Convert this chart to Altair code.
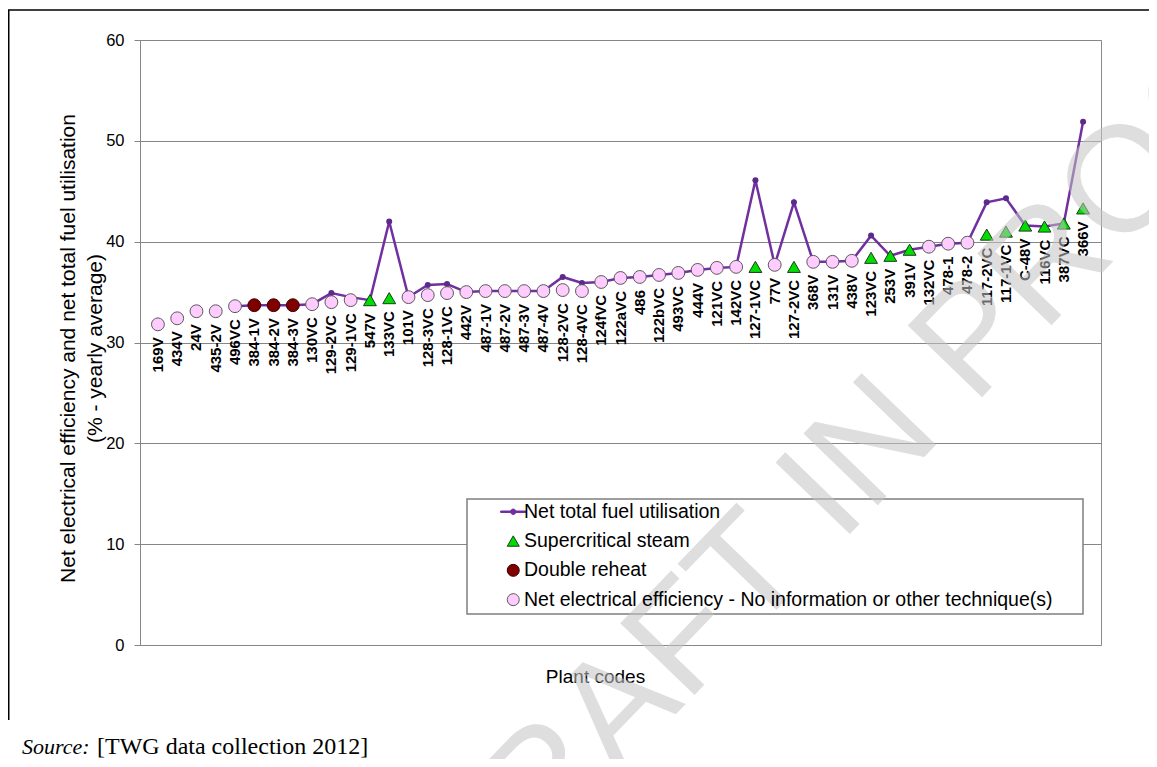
import altair as alt
import pandas as pd

# ---------------- data ----------------
plants = ["169V", "434V", "24V", "435-2V", "496VC", "384-1V", "384-2V", "384-3V",
          "130VC", "129-2VC", "129-1VC", "547V", "133VC", "101V", "128-3VC",
          "128-1VC", "442V", "487-1V", "487-2V", "487-3V", "487-4V", "128-2VC",
          "128-4VC", "124fVC", "122aVC", "486", "122bVC", "493VC", "444V",
          "121VC", "142VC", "127-1VC", "77V", "127-2VC", "368V", "131V", "438V",
          "123VC", "253V", "391V", "132VC", "478-1", "478-2", "117-2VC",
          "117-1VC", "C-48V", "116VC", "387VC", "366V"]

net_elec = [31.8, 32.4, 33.1, 33.1, 33.6, 33.7, 33.7, 33.7, 33.8, 34.0, 34.2,
            34.2, 34.4, 34.5, 34.7, 34.9, 35.0, 35.1, 35.1, 35.1, 35.1, 35.2,
            35.1, 36.0, 36.4, 36.5, 36.7, 36.9, 37.2, 37.4, 37.5, 37.5, 37.7,
            37.5, 38.0, 38.0, 38.1, 38.4, 38.6, 39.2, 39.5, 39.8, 39.9, 40.7,
            41.0, 41.6, 41.5, 41.8, 43.3]

net_fuel = [None, None, None, None, 33.6, 33.7, 33.7, 33.7, 33.8, 34.9, 34.5,
            34.2, 42.0, 34.5, 35.7, 35.8, 35.0, 35.1, 35.1, 35.1, 35.1, 36.5,
            35.9, 36.0, 36.4, 36.5, 36.7, 36.9, 37.2, 37.4, 37.5, 46.1, 37.7,
            43.9, 38.0, 38.0, 38.1, 40.6, 38.6, 39.2, 39.5, 39.8, 39.9, 43.9,
            44.3, 41.6, 41.5, 41.8, 51.9]

# C = no information / other technique, D = double reheat, S = supercritical steam
types = (["C"] * 5 + ["D"] * 3 + ["C"] * 3 + ["S", "S"] + ["C"] * 18 +
         ["S", "C", "S"] + ["C"] * 3 + ["S"] * 3 + ["C"] * 3 + ["S"] * 6)

series_names = ["Net total fuel utilisation", "Supercritical steam", "Double reheat",
                "Net electrical efficiency - No information or other technique(s)"]
code_to_series = {"S": series_names[1], "D": series_names[2], "C": series_names[3]}

y_ticks = [0, 10, 20, 30, 40, 50, 60]
y_title = ["Net electrical efficiency and net total fuel utilisation",
           "(% - yearly average)"]

df = pd.DataFrame({
    "Plant": plants,
    "NEE": net_elec,
    "NTFU": net_fuel,
    "Series": [code_to_series[t] for t in types],
})

FONT = "Liberation Sans"
PURPLE = "#7030A0"

x_enc = alt.X(
    "Plant:N", sort=plants,
    scale=alt.Scale(type="point", padding=0.93),
    axis=alt.Axis(title="Plant codes", labels=False, ticks=False, domain=False,
                  grid=False, titleX=455, titleY=31, titleBaseline="middle",
                  titleFontSize=19, titleFontWeight="normal", titleColor="black",
                  titleFont=FONT),
)
y_scale = alt.Scale(domain=[0, 60], nice=False)
y_axis = alt.Axis(values=y_ticks, grid=True, gridColor="#868686",
                  domainColor="#868686", tickColor="#868686", tickSize=6,
                  labelFontSize=16.5, labelColor="black", labelPadding=10,
                  labelFont=FONT, title=y_title, titleFontSize=21,
                  titleFontWeight="normal", titleColor="black", titleFont=FONT,
                  titleX=-72, titleY=308, titleBaseline="middle",
                  titleLineHeight=27)

LINE_PATH = ("M-2.1,-0.12H2.1V0.12H-2.1Z "
             "M0.45,0A0.45,0.45,0,1,1,-0.45,0A0.45,0.45,0,1,1,0.45,0Z")

fill_scale = alt.Scale(domain=series_names,
                       range=[PURPLE, "#00DD00", "#800000", "#FFCCFF"])
stroke_scale = alt.Scale(domain=series_names,
                         range=[PURPLE, "#1E3A1E", "#3A0000", "#5A5A5A"])
shape_scale = alt.Scale(domain=series_names,
                        range=[LINE_PATH, "triangle-up", "circle", "circle"])

legend = alt.Legend(
    title=None, orient="none", legendX=327, legendY=459,
    labelFontSize=19.5, labelFont=FONT, labelColor="black", labelLimit=800,
    symbolSize=144, symbolStrokeWidth=1, symbolOffset=33.5, labelOffset=1,
    rowPadding=8.3, padding=3,
)

base = alt.Chart(df)

# legend frame (decoration behind the legend entries)
legend_box = alt.Chart(pd.DataFrame({"k": [0]})).mark_rect(
    fill="white", stroke="#7f7f7f", strokeWidth=1.5
).encode(x=alt.value(327), x2=alt.value(943), y=alt.value(459), y2=alt.value(574))

line = base.transform_filter("isValid(datum.NTFU)").mark_line(
    color=PURPLE, strokeWidth=2.5
).encode(x=x_enc, y=alt.Y("NTFU:Q", scale=y_scale, axis=y_axis))

dots = base.transform_filter("isValid(datum.NTFU)").mark_circle(
    size=36, color="#5B2A8C", opacity=1
).encode(x=x_enc, y=alt.Y("NTFU:Q", scale=y_scale, axis=y_axis))

markers = base.mark_point(filled=True, size=165, strokeWidth=1, opacity=1).encode(
    x=x_enc,
    y=alt.Y("NEE:Q", scale=y_scale, axis=y_axis),
    fill=alt.Fill("Series:N", scale=fill_scale, legend=legend),
    stroke=alt.Stroke("Series:N", scale=stroke_scale, legend=legend),
    shape=alt.Shape("Series:N", scale=shape_scale, legend=legend),
)

labels = base.mark_text(
    angle=270, align="right", baseline="middle", dx=-13, fontSize=15,
    fontWeight="bold", color="black", font=FONT
).encode(x=x_enc, y=alt.Y("NEE:Q", scale=y_scale, axis=y_axis), text="Plant:N")

watermark = alt.Chart(pd.DataFrame({"t": ["DRAFT IN PROGRESS"]})).mark_text(
    angle=314, align="center", baseline="alphabetic", fontSize=150, font=FONT,
    color="#c4c4c4", opacity=0.55
).encode(x=alt.value(875), y=alt.value(323), text="t:N")

source1 = alt.Chart(pd.DataFrame({"t": ["Source:"]})).mark_text(
    align="left", baseline="alphabetic", fontSize=22, font="Liberation Serif",
    fontStyle="italic", color="black"
).encode(x=alt.value(-118), y=alt.value(714), text="t:N")

source2 = alt.Chart(pd.DataFrame({"t": ["[TWG data collection 2012]"]})).mark_text(
    align="left", baseline="alphabetic", fontSize=24, font="Liberation Serif",
    color="black"
).encode(x=alt.value(-43), y=alt.value(714), text="t:N")

frame_top = alt.Chart(pd.DataFrame({"k": [0]})).mark_rule(
    color="black", strokeWidth=1.5
).encode(x=alt.value(-132), x2=alt.value(1020), y=alt.value(-30))

frame_left = alt.Chart(pd.DataFrame({"k": [0]})).mark_rule(
    color="black", strokeWidth=2
).encode(x=alt.value(-131.5), y=alt.value(-30), y2=alt.value(680))

chart = alt.layer(
    legend_box, line, dots, markers, labels, watermark, source1, source2,
    frame_top, frame_left
).properties(
    width=961, height=605,
    autosize=alt.AutoSizeParams(type="none"),
    padding={"left": 132, "top": 32, "right": 48, "bottom": 114},
    background="white",
).configure_view(stroke="#8c8c8c").configure_axis(labelFont=FONT, titleFont=FONT)

chart.save("out.html", embed_options={"renderer": "svg", "actions": False})
